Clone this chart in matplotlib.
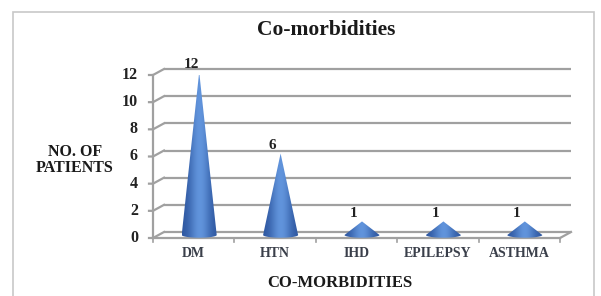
import numpy as np
import matplotlib
matplotlib.use("Agg")
import matplotlib.pyplot as plt
from matplotlib.patches import Polygon, Rectangle
from matplotlib.transforms import offset_copy

categories = ["DM", "HTN", "IHD", "EPILEPSY", "ASTHMA"]
values = [12, 6, 1, 1, 1]
yticks = [0, 2, 4, 6, 8, 10, 12]
title = "Co-morbidities"
xlabel = "CO-MORBIDITIES"
ylabel = "NO. OF\nPATIENTS"

plt.rcParams['font.family'] = ['Liberation Serif', 'DejaVu Serif']

W, H = 601, 296
fig = plt.figure(figsize=(W / 100, H / 100), dpi=100)
fig.patch.set_facecolor('white')

# outer chart frame
fig.add_artist(Rectangle((13 / W, -0.1), (594 - 13) / W, 1.1 - 12 / H,
                         transform=fig.transFigure, fill=False,
                         edgecolor='#c8c8c8', linewidth=1.2))

x0, x1 = 153, 560
yb, yt = 238, 75
ax = fig.add_axes([x0 / W, 1 - yb / H, (x1 - x0) / W, (yb - yt) / H])
ax.set_xlim(-0.5, 4.5)
ax.set_ylim(0, 12)
ax.axis('off')

DX, DY = 11, 6
back = offset_copy(ax.transData, fig=fig, x=DX, y=DY, units='dots')
mid = offset_copy(ax.transData, fig=fig, x=DX * 0.5, y=DY * 0.5, units='dots')
gcol = '#a0a0a0'

# back gridlines
for t in yticks:
    ax.plot([-0.5, 4.5], [t, t], transform=back, color=gcol, lw=1.6,
            clip_on=False, solid_capstyle='butt')
# left wall diagonals and ticks
for t in yticks:
    p_front = ax.transData.transform((-0.5, t))
    p_back = back.transform((-0.5, t))
    fig.add_artist(plt.Line2D([p_front[0] - 4, p_front[0], p_back[0]],
                              [p_front[1], p_front[1], p_back[1]],
                              transform=None, color=gcol, lw=1.6))
# front y axis
ax.plot([-0.5, -0.5], [0, 12], color=gcol, lw=1.6, clip_on=False)
# floor front edge + right diagonal
pf = ax.transData.transform((4.5, 0))
pb = back.transform((4.5, 0))
ax.plot([-0.5, 4.5], [0, 0], color=gcol, lw=1.6, clip_on=False)
fig.add_artist(plt.Line2D([pf[0], pb[0]], [pf[1], pb[1]], transform=None,
                          color=gcol, lw=1.6))
# x tick marks
for b in np.arange(-0.5, 5.0, 1.0):
    ax.plot([b, b], [0, -0.3], color=gcol, lw=1.2, clip_on=False)

# cones with gradient
grad = np.linspace(0, 1, 200)
shade = np.exp(-((grad - 0.5) / 0.3) ** 2)
c_dark = np.array([0.17, 0.33, 0.62])
c_light = np.array([0.38, 0.58, 0.86])
img = (c_dark[None, :] * (1 - shade[:, None]) + c_light[None, :] * shade[:, None])
img = img[None, :, :]

hw = 0.215
ell = 0.2
for i, v in enumerate(values):
    t = np.linspace(0, np.pi, 30)
    pts = [(i, v), (i + hw, 0)] + [(i + hw * np.cos(a), -ell * np.sin(a)) for a in t] + [(i - hw, 0)]
    poly = Polygon(pts, closed=True, transform=mid, facecolor='none',
                   edgecolor='none', clip_on=False)
    ax.add_patch(poly)
    im = ax.imshow(img, extent=(i - hw, i + hw, -ell, v), transform=mid,
                   aspect='auto', interpolation='bilinear', zorder=3)
    im.set_clip_path(poly)
    ax.annotate(str(v), (i, v), xytext=(-2, 3), textcoords='offset points',
                ha='center', va='bottom', fontsize=11, fontweight='bold',
                color='#222222', annotation_clip=False)

ax.set_xlim(-0.5, 4.5)
ax.set_ylim(0, 12)

# tick labels
for t in yticks:
    ax.text(-0.5, t, str(t), transform=offset_copy(ax.transData, fig=fig, x=-15, y=0, units='dots'),
            ha='right', va='center', fontsize=11.5, fontweight='bold', color='#222222')
for i, c in enumerate(categories):
    ax.text(i, 0, c, transform=offset_copy(ax.transData, fig=fig, x=0, y=-9, units='dots'),
            ha='center', va='top', fontsize=10, fontweight='bold', color='#3a3f4a')

fig.text(326 / W, 1 - 30 / H, title, ha='center', va='center', fontsize=15.5,
         fontweight='bold', color='#1a1a1a')
fig.text(340 / W, 1 - 283 / H, xlabel, ha='center', va='center', fontsize=12,
         fontweight='bold', color='#1a1a1a')
fig.text(75 / W, 1 - 160 / H, ylabel, ha='center', va='center', fontsize=11.5,
         fontweight='bold', color='#1a1a1a', linespacing=1.0)

fig.savefig("out.png", dpi=100)
